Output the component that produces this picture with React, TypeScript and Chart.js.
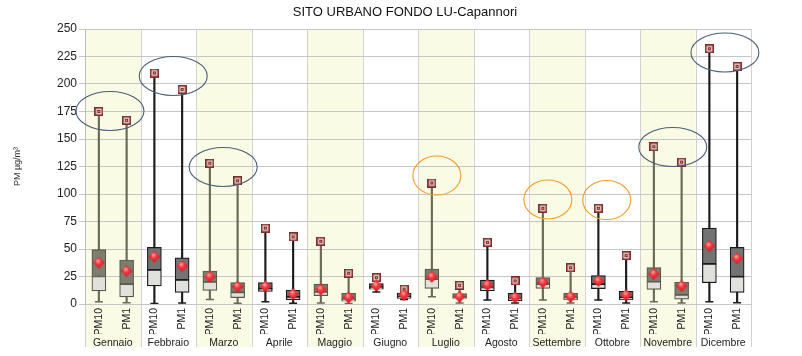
import React, { useEffect, useRef } from 'react';
import { Chart, registerables } from 'chart.js';

Chart.register(...registerables);

// ---- data ----
const chartTitle = 'SITO URBANO FONDO LU-Capannori';
const yTitle = 'PM µg/m³';
const months = ['Gennaio', 'Febbraio', 'Marzo', 'Aprile', 'Maggio', 'Giugno', 'Luglio', 'Agosto', 'Settembre', 'Ottobre', 'Novembre', 'Dicembre'];
const pollutants = ['PM10', 'PM1'];
// values per category: Gen PM10, Gen PM1, Feb PM10, Feb PM1, ...
const maxVals = [175, 167, 210, 195, 128, 112, 69, 61, 57, 28, 24, 13.5, 110, 17, 56, 21, 87, 33, 87, 44, 143, 129, 232, 216];
const q3Vals = [49.5, 40, 51.5, 42, 30, 19.5, 19.5, 12.5, 18, 9.7, 18.5, 10, 31.8, 9.5, 21.8, 9.7, 24, 9.7, 25.8, 11.5, 33, 19.7, 69, 51.5];
const medianVals = [25, 18, 31, 22, 20, 10.5, 14, 6.5, 11, 4.5, 15.5, 6.5, 22.5, 6, 15, 5, 18, 6, 18, 6, 20.3, 8.2, 36.4, 24.8];
const q1Vals = [12, 6.5, 16.4, 10.6, 12.4, 5.8, 11.5, 4, 7.6, 2.5, 13.5, 5, 14.2, 5, 12, 3, 14.2, 3.6, 14, 3.6, 13.3, 4.5, 19.4, 10.6];
const minVals = [2, 1.2, 0.5, 0.8, 4, 0.6, 2, 0.6, 1, 0.5, 11, 4, 6.7, 1, 3.6, 1, 3.6, 1, 3.6, 1, 2, 1, 2, 1.2];
const meanVals = [37.5, 30, 43, 34.5, 24.8, 15.8, 16, 9, 13.3, 6, 16.7, 8.2, 24.8, 6.7, 17.3, 6, 19.7, 6.7, 21, 8.2, 27.3, 16.4, 52.7, 41.5];
const yMin = 0;
const yMax = 250;
const yStep = 25;
// highlight ellipses: month position, centre value, colour kind
const ellipseMonth = [-0.05, 1.09, 1.99, 5.84, 7.84, 8.9, 10.09, 11.03];
const ellipseValue = [175.5, 207.3, 124.5, 116.8, 95, 94.5, 142.7, 228.6];
const ellipseKind = ['blue', 'blue', 'blue', 'orange', 'orange', 'orange', 'blue', 'blue'];

const FONT = "'Liberation Sans', Arial, sans-serif";

function makeMaxMarker(): HTMLCanvasElement {
  const c = document.createElement('canvas');
  c.width = 9; c.height = 9;
  const g = c.getContext('2d')!;
  g.fillStyle = '#7c2e30';
  g.fillRect(0, 0, 9, 9);
  g.fillStyle = '#e6c4b8';
  g.fillRect(1.5, 1.5, 6, 6);
  g.strokeStyle = '#7c2e30';
  g.lineWidth = 1;
  g.strokeRect(3.5, 3.5, 2, 2);
  return c;
}

function makeMeanMarker(): HTMLCanvasElement {
  const c = document.createElement('canvas');
  c.width = 13; c.height = 13;
  const g = c.getContext('2d')!;
  const grad = g.createRadialGradient(5.5, 4.5, 0.5, 6.5, 6.5, 7);
  grad.addColorStop(0, '#ff9c9c');
  grad.addColorStop(0.35, '#f23a40');
  grad.addColorStop(1, '#c40f18');
  g.fillStyle = grad;
  g.beginPath();
  g.moveTo(6.5, 0.6);
  g.lineTo(12.4, 6.5);
  g.lineTo(6.5, 12.4);
  g.lineTo(0.6, 6.5);
  g.closePath();
  g.fill();
  return c;
}

export default function App() {
  const ref = useRef<HTMLCanvasElement | null>(null);

  useEffect(() => {
    if (!ref.current) return;
    const labels: string[] = [];
    months.forEach(() => pollutants.forEach(p => labels.push(p)));
    const lineColors = labels.map((_, i) => (Math.floor(i / 2) % 2 === 0 ? '#6a6a55' : '#1c1c1c'));
    const boxBorders = labels.map((_, i) => (Math.floor(i / 2) % 2 === 0 ? '#5a5a48' : '#1a1a1a'));
    const upperFill = labels.map((_, i) => (Math.floor(i / 2) % 2 === 0 ? '#7d7d70' : '#737373'));

    const maxImg = makeMaxMarker();
    const meanImg = makeMeanMarker();

    const bandsPlugin = {
      id: 'monthBands',
      beforeDraw(chart: any) {
        const { ctx, chartArea } = chart;
        const x2 = chart.scales.x2;
        const bottom = chart.height - 9;
        ctx.save();
        months.forEach((_, m) => {
          if (m % 2 === 0) {
            const l = x2.getPixelForValue(m - 0.5);
            const r = x2.getPixelForValue(m + 0.5);
            ctx.fillStyle = '#f9fbe5';
            ctx.fillRect(l, chartArea.top, r - l, bottom - chartArea.top);
          }
        });
        ctx.strokeStyle = '#d2d2d2';
        ctx.lineWidth = 1;
        for (let m = 0; m <= months.length; m++) {
          const x = Math.round(x2.getPixelForValue(m - 0.5)) + 0.5;
          ctx.beginPath();
          ctx.moveTo(x, chartArea.top);
          ctx.lineTo(x, bottom);
          ctx.stroke();
        }
        ctx.restore();
      },
    };

    const ellipsePlugin = {
      id: 'ellipses',
      afterDatasetsDraw(chart: any) {
        const { ctx } = chart;
        const x2 = chart.scales.x2;
        const y = chart.scales.y;
        ctx.save();
        ellipseMonth.forEach((m, i) => {
          const blue = ellipseKind[i] === 'blue';
          const cx = x2.getPixelForValue(m);
          const cy = y.getPixelForValue(ellipseValue[i]);
          ctx.beginPath();
          ctx.ellipse(cx, cy, blue ? 34 : 24, 19.5, 0, 0, Math.PI * 2);
          ctx.strokeStyle = blue ? '#4a5f7a' : '#f0a028';
          ctx.lineWidth = 1.1;
          ctx.stroke();
        });
        ctx.restore();
      },
    };

    const common = { xAxisID: 'x', yAxisID: 'y' };

    const chart = new Chart(ref.current, {
      type: 'bar',
      data: {
        labels,
        datasets: [
          {
            ...common,
            type: 'line',
            label: 'media',
            data: meanVals,
            showLine: false,
            pointStyle: meanImg as any,
            pointRadius: 6,
            order: 0,
          },
          {
            ...common,
            type: 'line',
            label: 'max',
            data: maxVals,
            showLine: false,
            pointStyle: maxImg as any,
            pointRadius: 5,
            order: 1,
          },
          {
            ...common,
            type: 'line',
            label: 'min',
            data: minVals,
            showLine: false,
            pointStyle: 'line',
            pointRadius: 4,
            pointBorderColor: lineColors,
            pointBorderWidth: 1.5,
            order: 2,
          },
          {
            ...common,
            type: 'bar',
            label: 'q3',
            data: labels.map((_, i) => [medianVals[i], q3Vals[i]]),
            backgroundColor: upperFill,
            borderColor: boxBorders,
            borderWidth: 1.2,
            borderSkipped: false,
            barThickness: 14,
            grouped: false,
            order: 3,
          } as any,
          {
            ...common,
            type: 'bar',
            label: 'q1',
            data: labels.map((_, i) => [q1Vals[i], medianVals[i]]),
            backgroundColor: '#e0e0dc',
            borderColor: boxBorders,
            borderWidth: 1.2,
            borderSkipped: false,
            barThickness: 14,
            grouped: false,
            order: 4,
          } as any,
          {
            ...common,
            type: 'bar',
            label: 'range',
            data: labels.map((_, i) => [minVals[i], maxVals[i]]),
            backgroundColor: lineColors,
            barThickness: 1.5,
            grouped: false,
            order: 5,
          } as any,
        ],
      },
      options: {
        responsive: false,
        animation: false,
        layout: { padding: { left: 8, right: 0, top: 0, bottom: 0 } },
        plugins: {
          legend: { display: false },
          tooltip: { enabled: false },
          title: {
            display: true,
            text: chartTitle,
            color: '#111',
            font: { family: FONT, size: 13, weight: 'normal' },
            padding: { top: 5, bottom: 8.4 },
          },
        },
        scales: {
          x: {
            type: 'category',
            offset: true,
            grid: { display: false, drawTicks: false },
            border: { display: false },
            ticks: {
              autoSkip: false,
              maxRotation: 90,
              minRotation: 90,
              padding: 4,
              color: '#222',
              font: { family: FONT, size: 10.5 },
            },
            afterFit: (s: any) => { s.height = 30; },
          },
          x2: {
            type: 'category',
            labels: months,
            position: 'bottom',
            offset: true,
            grid: { display: false, drawTicks: false },
            border: { display: false },
            ticks: {
              autoSkip: false,
              maxRotation: 0,
              minRotation: 0,
              padding: 3,
              color: '#222',
              font: { family: FONT, size: 10.5 },
            },
            afterFit: (s: any) => { s.height = 22; },
          },
          y: {
            min: yMin,
            max: yMax,
            ticks: {
              stepSize: yStep,
              padding: 2,
              color: '#222',
              font: { family: FONT, size: 12 },
            },
            grid: { color: '#c6c6c6', tickLength: 6 },
            border: { color: '#bdbdbd' },
            title: {
              display: true,
              text: yTitle,
              color: '#333',
              font: { family: FONT, size: 9 },
              padding: { top: 4.6, bottom: 0 },
            },
            afterFit: (s: any) => { s.width = 77; },
          },
          y2: {
            position: 'right',
            display: true,
            grid: { display: false, drawTicks: false },
            border: { display: false },
            ticks: { display: false },
            afterFit: (s: any) => { s.width = 51; },
          },
        },
      } as any,
      plugins: [bandsPlugin, ellipsePlugin],
    });

    return () => chart.destroy();
  }, []);

  return (
    <div style={{ position: 'fixed', left: 0, top: 0, width: 802, height: 356, background: '#fff' }}>
      <canvas ref={ref} width={802} height={356} style={{ display: 'block' }} />
    </div>
  );
}
